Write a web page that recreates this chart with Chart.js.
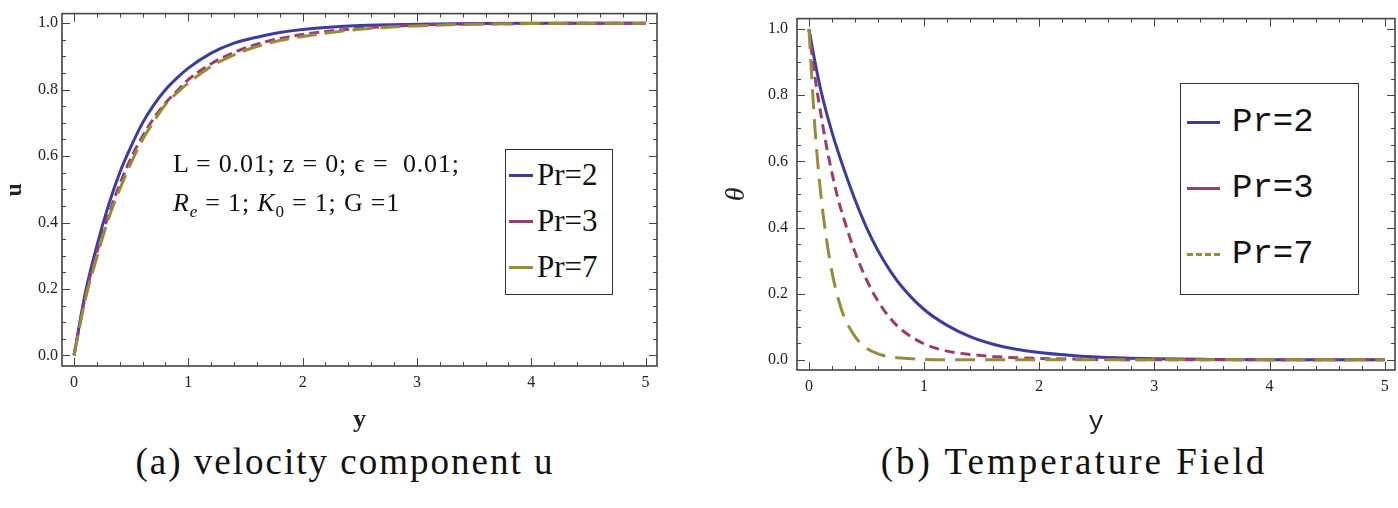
<!DOCTYPE html>
<html lang="en">
<head>
    <meta charset="UTF-8">
    <title>Velocity and Temperature profiles</title>
    <script src="https://cdn.jsdelivr.net/npm/chart.js"></script>
    <style>
        body { margin: 0; background: #fff; width: 1398px; height: 508px; position: relative; overflow: hidden; }
        canvas { position: absolute; top: 0; }
        #leftChart { left: 0; }
        #rightChart { left: 700px; }
        .caption { position: absolute; top: 440px; width: 600px; text-align: center; font-family: "Liberation Serif", serif; font-size: 37px; color: #111; white-space: nowrap; }
        .note { position: absolute; left: 173px; font-family: "Liberation Serif", serif; font-size: 26px; letter-spacing: 0.8px; color: #111; white-space: nowrap; }
        .legend { position: absolute; border: 1.5px solid #333; background: #fff; }
        .entry { position: absolute; white-space: nowrap; color: #111; }
        .swatch { position: absolute; height: 0; }
    </style>
</head>
<body>
    <canvas id="leftChart" width="690" height="440"></canvas>
    <canvas id="rightChart" width="698" height="440"></canvas>

    <div class="note" style="top:149px;">L = 0.01; z = 0; &#1013; = &nbsp;0.01;</div>
    <div class="note" style="top:188px;"><i>R<sub style="font-size:17px">e</sub></i> = 1; <i>K</i><sub style="font-size:17px">0</sub> = 1; G =1</div>

    <div class="legend" style="left:505px; top:149px; width:106px; height:144px;"></div>
    <div class="legend" style="left:1180px; top:83px; width:177px; height:210px;"></div>
    <div id="legendItems"></div>

    <div class="caption" style="left:45px; letter-spacing:2px;">(a) velocity component u</div>
    <div class="caption" style="left:774px; letter-spacing:3px;">(b) Temperature Field</div>

    <script>
        // ---- data ----
        const seriesNames = ["Pr=2", "Pr=3", "Pr=7"];
        const seriesColors = ["#3d3d99", "#993d71", "#998b3d"];

        // (a) velocity u against y
        const yLeft = [0, 0.1, 0.2, 0.3, 0.4, 0.5, 0.6, 0.7, 0.8, 0.9, 1.0, 1.2, 1.4, 1.6, 1.8, 2.0, 2.5, 3.0, 3.5, 4.0, 4.5, 5.0];
        const uPr2 = [0, 0.19, 0.33, 0.45, 0.55, 0.63, 0.70, 0.755, 0.80, 0.835, 0.865, 0.91, 0.94, 0.958, 0.972, 0.981, 0.993, 0.997, 0.999, 1.0, 1.0, 1.0];
        const uPr3 = [0, 0.18, 0.31, 0.42, 0.515, 0.595, 0.66, 0.715, 0.76, 0.795, 0.83, 0.878, 0.912, 0.937, 0.954, 0.966, 0.985, 0.994, 0.998, 0.999, 1.0, 1.0];
        const uPr7 = [0, 0.17, 0.295, 0.41, 0.50, 0.58, 0.65, 0.705, 0.755, 0.79, 0.82, 0.87, 0.905, 0.93, 0.948, 0.96, 0.982, 0.992, 0.997, 0.999, 1.0, 1.0];

        // (b) temperature theta against y
        const yRight = [0, 0.05, 0.1, 0.15, 0.2, 0.25, 0.3, 0.4, 0.5, 0.6, 0.7, 0.8, 1.0, 1.2, 1.4, 1.6, 1.8, 2.0, 2.5, 3.0, 3.5, 4.0, 4.5, 5.0];
        const tPr2 = [1, 0.905, 0.82, 0.75, 0.688, 0.632, 0.58, 0.484, 0.40, 0.33, 0.272, 0.224, 0.152, 0.104, 0.070, 0.047, 0.032, 0.022, 0.008, 0.003, 0.001, 0, 0, 0];
        const tPr3 = [1, 0.86, 0.75, 0.65, 0.565, 0.49, 0.43, 0.325, 0.242, 0.177, 0.128, 0.092, 0.048, 0.026, 0.016, 0.010, 0.006, 0.004, 0.001, 0, 0, 0, 0, 0];
        const tPr7 = [1, 0.71, 0.51, 0.37, 0.265, 0.19, 0.135, 0.07, 0.035, 0.018, 0.009, 0.005, 0.001, 0, 0, 0, 0, 0, 0, 0, 0, 0, 0, 0];

        const xTickLabels = [0, 1, 2, 3, 4, 5];
        const yTickLabels = [0, 0.2, 0.4, 0.6, 0.8, 1.0];

        // dash patterns as drawn in each panel
        const leftDashes = [[], [10, 5], [20, 8]];
        const rightDashes = [[], [10, 6], [20, 10]];

        function pts(xs, ys) {
            return xs.map((x, i) => ({ x: x, y: ys[i] }));
        }

        function makeDatasets(xs, list, dashes) {
            return list.map((ys, i) => ({
                label: seriesNames[i],
                data: pts(xs, ys),
                borderColor: seriesColors[i],
                borderWidth: 3,
                borderDash: dashes[i],
                pointRadius: 0,
                fill: false,
                cubicInterpolationMode: "monotone",
                order: 3 - i
            }));
        }

        // frame with inward ticks on all four sides, like the original plots
        const framePlugin = {
            id: "frame",
            afterDraw(chart) {
                const { ctx, chartArea: a, scales } = chart;
                const x = scales.x, y = scales.y;
                ctx.save();
                ctx.strokeStyle = "#444";
                ctx.lineWidth = 1;
                function seg(x1, y1, x2, y2) {
                    ctx.beginPath(); ctx.moveTo(x1, y1); ctx.lineTo(x2, y2); ctx.stroke();
                }
                for (let i = 0; i <= 25; i++) {
                    const px = Math.round(x.getPixelForValue(i * 0.2)) + 0.5;
                    const len = i % 5 === 0 ? 8 : 4;
                    seg(px, a.bottom, px, a.bottom - len);
                    seg(px, a.top, px, a.top + len);
                }
                for (let i = 0; i <= 20; i++) {
                    const py = Math.round(y.getPixelForValue(i * 0.05)) + 0.5;
                    const len = i % 4 === 0 ? 8 : 4;
                    seg(a.left, py, a.left + len, py);
                    seg(a.right, py, a.right - len, py);
                }
                ctx.lineWidth = 1.6;
                ctx.strokeRect(a.left, a.top, a.right - a.left, a.bottom - a.top);
                ctx.restore();
            }
        };

        function makeChart(id, datasets, cfg) {
            return new Chart(document.getElementById(id).getContext("2d"), {
                type: "line",
                data: { datasets: datasets },
                options: {
                    responsive: false,
                    animation: false,
                    layout: { padding: { top: 2, right: cfg.padRight, left: 0, bottom: 0 } },
                    plugins: { legend: { display: false }, tooltip: { enabled: false } },
                    scales: {
                        x: {
                            type: "linear",
                            min: cfg.xMin, max: cfg.xMax,
                            grid: { display: false, drawTicks: false },
                            border: { display: false },
                            afterBuildTicks: s => { s.ticks = xTickLabels.map(v => ({ value: v })); },
                            afterFit: s => { s.height = cfg.xHeight; },
                            ticks: { padding: 7, color: "#222", font: { family: "Liberation Serif", size: 16 }, callback: v => String(v) },
                            title: { display: true, text: "y", color: "#222", font: cfg.xTitleFont, padding: { top: 0, bottom: cfg.xTitlePad } }
                        },
                        y: {
                            type: "linear",
                            min: cfg.yMin, max: cfg.yMax,
                            grid: { display: false, drawTicks: false },
                            border: { display: false },
                            afterBuildTicks: s => { s.ticks = yTickLabels.map(v => ({ value: v })); },
                            afterFit: s => { s.width = cfg.yWidth; },
                            ticks: { padding: cfg.yPad, color: "#222", font: { family: "Liberation Serif", size: 16 }, callback: v => v.toFixed(1) },
                            title: { display: true, text: cfg.yTitle, color: "#222", font: cfg.yTitleFont, padding: { top: cfg.yTitlePad, bottom: 0 } }
                        }
                    }
                },
                plugins: [framePlugin]
            });
        }

        makeChart("leftChart", makeDatasets(yLeft, [uPr2, uPr3, uPr7], leftDashes), {
            xMin: -0.105, xMax: 5.1, yMin: -0.032, yMax: 1.029,
            padRight: 33, xHeight: 74, yWidth: 62, yPad: 4,
            yTitle: "u", xTitlePad: 4, yTitlePad: 0,
            xTitleFont: { family: "Liberation Serif", size: 26, weight: "bold" },
            yTitleFont: { family: "Liberation Serif", size: 24, weight: "bold" }
        });

        makeChart("rightChart", makeDatasets(yRight, [tPr2, tPr3, tPr7], rightDashes), {
            xMin: -0.104, xMax: 5.09, yMin: -0.031, yMax: 1.032,
            padRight: 3, xHeight: 70, yWidth: 97, yPad: 9,
            yTitle: "\u03B8", xTitlePad: 2, yTitlePad: 20,
            xTitleFont: { family: "Liberation Mono", size: 26 },
            yTitleFont: { family: "Liberation Serif", size: 28, style: "italic" }
        });

        // legends drawn as in the original (their swatches differ from the curves)
        const legendItems = [
            { left: 509, text: 537, tops: [175, 221, 267], font: "31px 'Liberation Serif'", w: 24, dash: [false, false, false] },
            { left: 1187, text: 1232, tops: [122, 188, 254], font: "34px 'Liberation Mono'", w: 33, dash: [false, false, true] }
        ];
        const holder = document.getElementById("legendItems");
        legendItems.forEach(lg => {
            seriesNames.forEach((name, i) => {
                const sw = document.createElement("div");
                sw.className = "swatch";
                sw.style.left = lg.left + "px";
                sw.style.top = (lg.tops[i] - 1.5) + "px";
                sw.style.width = lg.w + "px";
                sw.style.borderTop = "3px " + (lg.dash[i] ? "dashed " : "solid ") + seriesColors[i];
                holder.appendChild(sw);
                const t = document.createElement("div");
                t.className = "entry";
                t.style.left = lg.text + "px";
                t.style.top = (lg.tops[i] - 20) + "px";
                t.style.font = lg.font;
                t.style.lineHeight = "40px";
                t.textContent = name;
                holder.appendChild(t);
            });
        });
    </script>
</body>
</html>
